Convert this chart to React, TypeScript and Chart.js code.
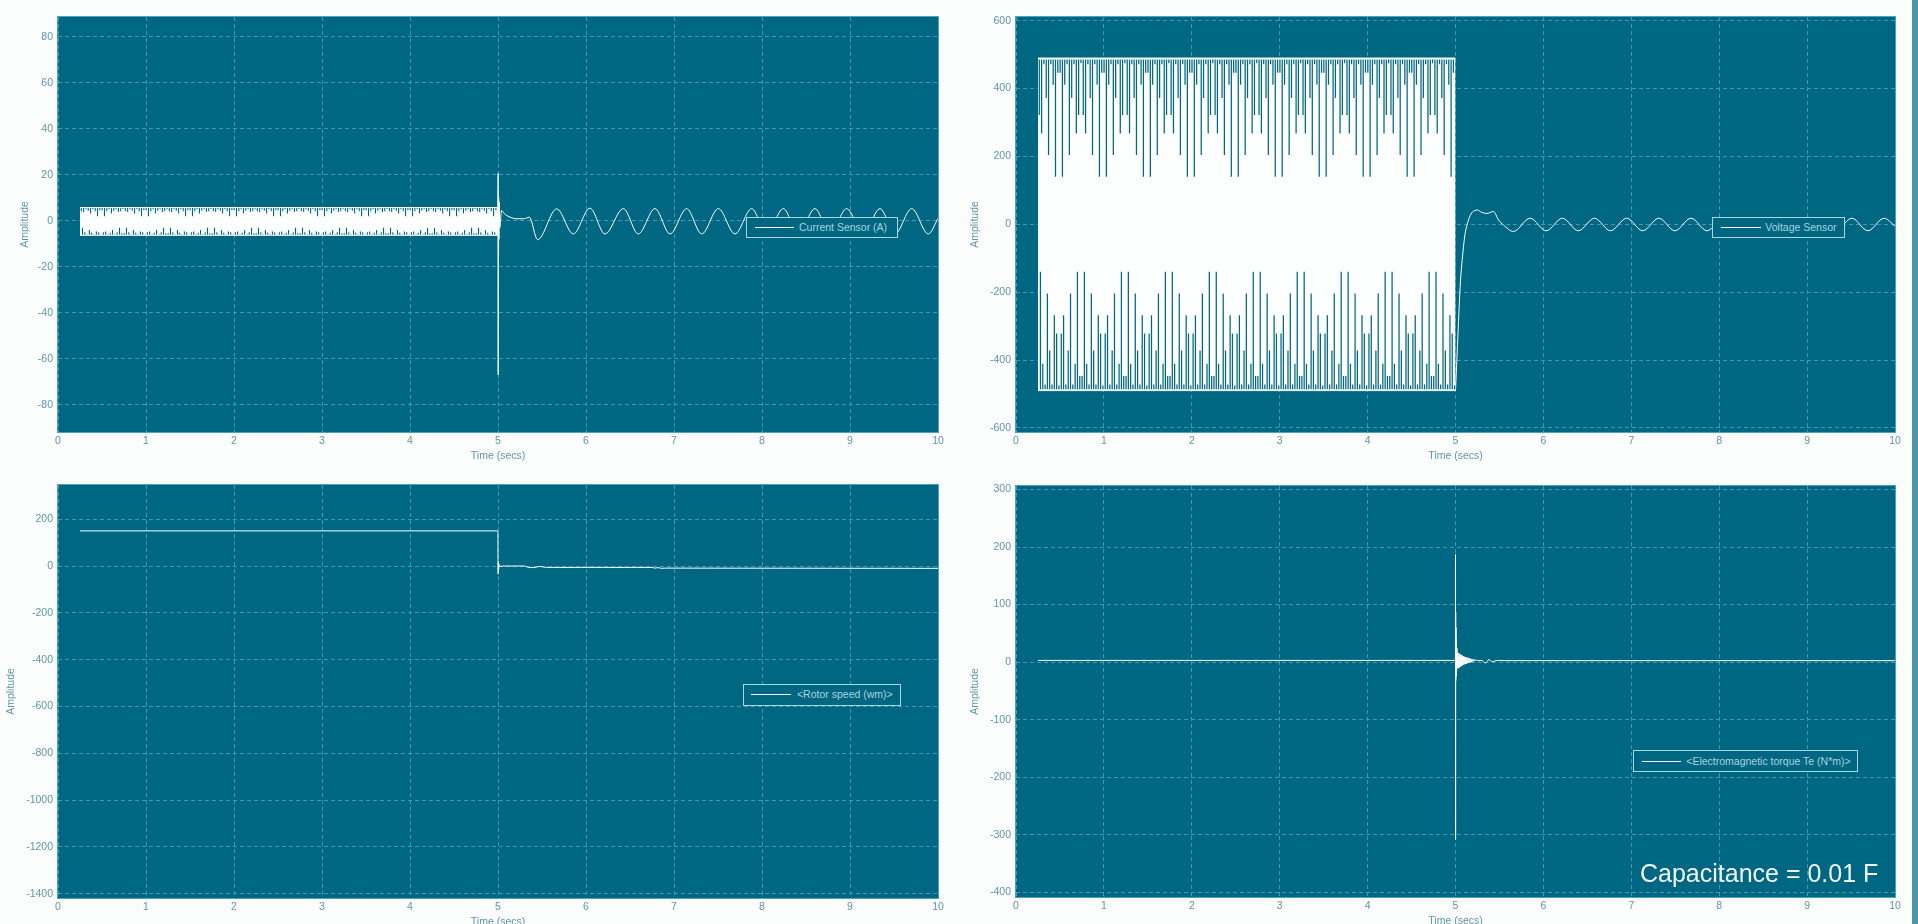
import React, { useEffect, useRef } from "react";
import { Chart, registerables } from "chart.js";

Chart.register(...registerables);

// ---------- colours / fonts ----------
const PAGE_BG = "#fbfcfc";
const PLOT_BG = "#006782";
const GRID = "#3c9ab2";
const FRAME = "#4ea3b8";
const AXIS_TEXT = "#5f96a7";
const TRACE = "#fdfefe";
const LEGEND_EDGE = "#a9d6e1";
const LEGEND_TEXT = "#aad3de";
const FONT = "'Liberation Sans', Arial, sans-serif";

// ---------- ticks ----------
const timeTicks = [0, 1, 2, 3, 4, 5, 6, 7, 8, 9, 10];
const currentTicks = [-80, -60, -40, -20, 0, 20, 40, 60, 80];
const voltageTicks = [-600, -400, -200, 0, 200, 400, 600];
const speedTicks = [-1400, -1200, -1000, -800, -600, -400, -200, 0, 200];
const torqueTicks = [-400, -300, -200, -100, 0, 100, 200, 300];

const currentRange = [-91.9, 88.7];
const voltageRange = [-612, 611];
const speedRange = [-1418, 346];
const torqueRange = [-408, 306];

// ---------- PWM block (inverter running, 0.25 s to 5 s) ----------
const blockTimes = [0.25, 5.0];
const currentBandTop = [5.8, 5.8];
const currentBandBottom = [-6.3, -6.3];
const voltageBandTop = [490, 490];
const voltageBandBottom = [-490, -490];

// PWM gaps, sampled every 0.02632 s
const gapTopStart = 0.265;
const gapBottomStart = 0.278;
const gapStep = 0.02632;

const voltTopGapEnds = [
  322, 268, 472, 372, 204, 472, 411,
  140, 447, 447, 140, 411, 472, 204, 372, 472, 268, 322, 475, 322, 268, 472, 372, 204, 472, 411,
  140, 447, 447, 140, 411, 472, 204, 372, 472, 268, 322, 475, 322, 268, 472, 372, 204, 472, 411,
  140, 447, 447, 140, 411, 472, 204, 372, 472, 268, 322, 475, 322, 268, 472, 372, 204, 472, 411,
  140, 447, 447, 140, 411, 472, 204, 372, 472, 268, 322, 475, 322, 268, 472, 372, 204, 472, 411,
  140, 447, 447, 140, 411, 472, 204, 372, 472, 268, 322, 475, 322, 268, 472, 372, 204, 472, 411,
  140, 447, 447, 140, 411, 472, 204, 372, 472, 268, 322, 475, 322, 268, 472, 372, 204, 472, 411,
  140, 447, 447, 140, 411, 472, 204, 372, 472, 268, 322, 475, 322, 268, 472, 372, 204, 472, 411,
  140, 447, 447, 140, 411, 472, 204, 372, 472, 268, 322, 475, 322, 268, 472, 372, 204, 472, 411,
  140, 447, 447, 140, 411, 472, 204, 372, 472, 268, 322, 475, 322, 268, 472, 372, 204, 472, 411,
  140, 447,
];
const voltBottomGapEnds = [
  -140, -411, -472, -204, -372, -472, -268, -322, -475, -322, -268, -472, -372, -204, -472, -411,
  -140, -447, -447, -140, -411, -472, -204, -372, -472, -268, -322, -475, -322, -268, -472, -372, -204, -472, -411,
  -140, -447, -447, -140, -411, -472, -204, -372, -472, -268, -322, -475, -322, -268, -472, -372, -204, -472, -411,
  -140, -447, -447, -140, -411, -472, -204, -372, -472, -268, -322, -475, -322, -268, -472, -372, -204, -472, -411,
  -140, -447, -447, -140, -411, -472, -204, -372, -472, -268, -322, -475, -322, -268, -472, -372, -204, -472, -411,
  -140, -447, -447, -140, -411, -472, -204, -372, -472, -268, -322, -475, -322, -268, -472, -372, -204, -472, -411,
  -140, -447, -447, -140, -411, -472, -204, -372, -472, -268, -322, -475, -322, -268, -472, -372, -204, -472, -411,
  -140, -447, -447, -140, -411, -472, -204, -372, -472, -268, -322, -475, -322, -268, -472, -372, -204, -472, -411,
  -140, -447, -447, -140, -411, -472, -204, -372, -472, -268, -322, -475, -322, -268, -472, -372, -204, -472, -411,
  -140, -447, -447, -140, -411, -472, -204, -372, -472, -268, -322, -475,
];

const currTopNotchEnds = [
  4.2, 3.8, 5.0, 4.4, 3.2, 5.0, 4.2,
  2.0, 4.6, 4.6, 2.0, 4.2, 5.0, 3.2, 4.4, 5.0, 3.8, 4.2, 5.1, 4.2, 3.8, 5.0, 4.4, 3.2, 5.0, 4.2,
  2.0, 4.6, 4.6, 2.0, 4.2, 5.0, 3.2, 4.4, 5.0, 3.8, 4.2, 5.1, 4.2, 3.8, 5.0, 4.4, 3.2, 5.0, 4.2,
  2.0, 4.6, 4.6, 2.0, 4.2, 5.0, 3.2, 4.4, 5.0, 3.8, 4.2, 5.1, 4.2, 3.8, 5.0, 4.4, 3.2, 5.0, 4.2,
  2.0, 4.6, 4.6, 2.0, 4.2, 5.0, 3.2, 4.4, 5.0, 3.8, 4.2, 5.1, 4.2, 3.8, 5.0, 4.4, 3.2, 5.0, 4.2,
  2.0, 4.6, 4.6, 2.0, 4.2, 5.0, 3.2, 4.4, 5.0, 3.8, 4.2, 5.1, 4.2, 3.8, 5.0, 4.4, 3.2, 5.0, 4.2,
  2.0, 4.6, 4.6, 2.0, 4.2, 5.0, 3.2, 4.4, 5.0, 3.8, 4.2, 5.1, 4.2, 3.8, 5.0, 4.4, 3.2, 5.0, 4.2,
  2.0, 4.6, 4.6, 2.0, 4.2, 5.0, 3.2, 4.4, 5.0, 3.8, 4.2, 5.1, 4.2, 3.8, 5.0, 4.4, 3.2, 5.0, 4.2,
  2.0, 4.6, 4.6, 2.0, 4.2, 5.0, 3.2, 4.4, 5.0, 3.8, 4.2, 5.1, 4.2, 3.8, 5.0, 4.4, 3.2, 5.0, 4.2,
  2.0, 4.6, 4.6, 2.0, 4.2, 5.0, 3.2, 4.4, 5.0, 3.8, 4.2, 5.1, 4.2, 3.8, 5.0, 4.4, 3.2, 5.0, 4.2,
  2.0, 4.6,
];
const currBottomNotchEnds = [
  -3.0, -5.0, -5.8, -4.0, -5.2, -5.8, -4.6, -5.0, -5.9, -5.0, -4.6, -5.8, -5.2, -4.0, -5.8, -5.0,
  -3.0, -5.4, -5.4, -3.0, -5.0, -5.8, -4.0, -5.2, -5.8, -4.6, -5.0, -5.9, -5.0, -4.6, -5.8, -5.2, -4.0, -5.8, -5.0,
  -3.0, -5.4, -5.4, -3.0, -5.0, -5.8, -4.0, -5.2, -5.8, -4.6, -5.0, -5.9, -5.0, -4.6, -5.8, -5.2, -4.0, -5.8, -5.0,
  -3.0, -5.4, -5.4, -3.0, -5.0, -5.8, -4.0, -5.2, -5.8, -4.6, -5.0, -5.9, -5.0, -4.6, -5.8, -5.2, -4.0, -5.8, -5.0,
  -3.0, -5.4, -5.4, -3.0, -5.0, -5.8, -4.0, -5.2, -5.8, -4.6, -5.0, -5.9, -5.0, -4.6, -5.8, -5.2, -4.0, -5.8, -5.0,
  -3.0, -5.4, -5.4, -3.0, -5.0, -5.8, -4.0, -5.2, -5.8, -4.6, -5.0, -5.9, -5.0, -4.6, -5.8, -5.2, -4.0, -5.8, -5.0,
  -3.0, -5.4, -5.4, -3.0, -5.0, -5.8, -4.0, -5.2, -5.8, -4.6, -5.0, -5.9, -5.0, -4.6, -5.8, -5.2, -4.0, -5.8, -5.0,
  -3.0, -5.4, -5.4, -3.0, -5.0, -5.8, -4.0, -5.2, -5.8, -4.6, -5.0, -5.9, -5.0, -4.6, -5.8, -5.2, -4.0, -5.8, -5.0,
  -3.0, -5.4, -5.4, -3.0, -5.0, -5.8, -4.0, -5.2, -5.8, -4.6, -5.0, -5.9, -5.0, -4.6, -5.8, -5.2, -4.0, -5.8, -5.0,
  -3.0, -5.4, -5.4, -3.0, -5.0, -5.8, -4.0, -5.2, -5.8, -4.6, -5.0, -5.9,
];

// ---------- signals after the capacitor switch (t >= 5 s) ----------
const currentTimes = [
  5.0, 5.001, 5.002, 5.004, 5.006, 5.008, 5.011, 5.015, 5.02, 5.04, 5.07, 5.1, 5.15, 5.21, 5.3, 5.355, 5.45,
  5.667, 5.856, 6.045, 6.216, 6.424, 6.594, 6.784, 6.955, 7.144, 7.315, 7.504, 7.693, 7.883, 8.053, 8.242,
  8.413, 8.602, 8.773, 8.962, 9.151, 9.341, 9.511, 9.701, 9.89, 10.0,
];
const currentValues = [
  0, 20.7, -67, 13, -15, 10, -8, 8, -3, 4.5, 3.2, 2.3, 1.4, 0.9, 0.9, 1.6, -8.2,
  5.2, -5.7, 5.5, -5.7, 5.3, -5.7, 5.3, -5.7, 5.3, -5.7, 5.3, -5.7, 5.3, -5.7, 5.3,
  -5.7, 5.3, -5.7, 5.3, -5.7, 5.3, -5.7, 5.3, -5.7, 1.0,
];

const voltageTimes = [
  5.0, 5.007, 5.022, 5.053, 5.091, 5.11, 5.148, 5.186, 5.25, 5.3, 5.357, 5.432, 5.489, 5.545, 5.659,
  5.849, 6.032, 6.215, 6.398, 6.581, 6.764, 6.947, 7.13, 7.313, 7.496, 7.679, 7.862, 8.045, 8.228,
  8.411, 8.594, 8.777, 8.96, 9.143, 9.326, 9.509, 9.692, 9.875, 10.0,
];
const voltageValues = [
  -490, -450, -361, -184, -66, -27, 13, 34, 42, 35, 32, 38, 13, -2, -21,
  18, -19, 18, -19, 18, -19, 18, -19, 18, -19, 18, -19, 18, -19,
  18, -19, 18, -19, 18, -19, 18, -19, 18, -5,
];

const speedTimes = [
  0.25, 4.999, 5.0, 5.002, 5.004, 5.006, 5.01, 5.02, 5.05, 5.3, 5.33, 5.37, 5.42, 5.47, 5.5, 5.55, 5.6,
  6.75, 6.78, 6.82, 6.86, 6.9, 10.0,
];
const speedValues = [
  150, 150, 0, -35, 18, -20, 8, -3, 0, 0, -4, -7, -6, -2, -3, -6, -6,
  -6, -9, -7, -10, -9, -10,
];

const torqueTimes = [
  0.25, 4.999, 5.0, 5.001, 5.002, 5.003, 5.005, 5.007, 5.009, 5.012, 5.015,
  5.02, 5.025, 5.03, 5.035, 5.04, 5.045, 5.05, 5.055, 5.06, 5.065, 5.07, 5.075, 5.08, 5.085, 5.09, 5.095,
  5.1, 5.105, 5.11, 5.115, 5.12, 5.125, 5.13, 5.135, 5.14, 5.145, 5.15, 5.155, 5.16, 5.165, 5.17, 5.175,
  5.18, 5.185, 5.19, 5.195, 5.2, 5.21, 5.22, 5.23, 5.24, 5.25,
  5.3, 5.34, 5.38, 5.42, 5.46, 5.5, 5.56, 10.0,
];
const torqueValues = [
  3, 3, 187, -308, 87, -32, 60, -25, 40, -18, 25,
  17, -11, 16, -10, 15, -9, 14, -8, 13, -7, 12, -6, 11, -5, 10, -4,
  9.5, -3.5, 9, -3, 8.5, -2.5, 8, -2, 7.5, -1.5, 7, -1, 6.5, -0.5, 6, 0,
  5.5, 0.5, 5, 1, 5, 1.5, 4.5, 2, 4, 2.5,
  3, -1.5, 4.3, 1, 2.6, 3, 2.6, 2.6,
];

// ---------- helpers ----------
const pts = (xs: number[], ys: number[]) => xs.map((x, i) => ({ x, y: ys[i] }));

const gapPoints = (start: number, step: number, ends: number[], edge: number) => {
  const out: any[] = [];
  ends.forEach((v, i) => {
    const t = start + step * i;
    out.push({ x: t, y: edge }, { x: t, y: v }, { x: t, y: null });
  });
  return out;
};

const traceDs = (data: any[], order = 2) => ({
  data,
  borderColor: TRACE,
  borderWidth: 1,
  pointRadius: 0,
  fill: false,
  cubicInterpolationMode: "monotone",
  order,
});

const bandDs = (top: number[], bottom: number[]) => [
  { data: pts(blockTimes, top), borderColor: TRACE, backgroundColor: TRACE, borderWidth: 1, pointRadius: 0, fill: "+1", order: 6 },
  { data: pts(blockTimes, bottom), borderColor: TRACE, borderWidth: 1, pointRadius: 0, fill: false, order: 5 },
];

const gapDs = (data: any[], width = 1.25) => ({
  data,
  borderColor: PLOT_BG,
  borderWidth: width,
  pointRadius: 0,
  fill: false,
  spanGaps: false,
  tension: 0,
  order: 1,
});

const scopePlugin = {
  id: "scopeFrame",
  beforeDraw(chart: any) {
    const { ctx, chartArea: a } = chart;
    ctx.save();
    ctx.fillStyle = PLOT_BG;
    ctx.fillRect(a.left, a.top, a.right - a.left, a.bottom - a.top);
    ctx.restore();
  },
  afterDatasetsDraw(chart: any) {
    const { ctx, chartArea: a } = chart;
    ctx.save();
    ctx.strokeStyle = FRAME;
    ctx.lineWidth = 1;
    ctx.strokeRect(a.left - 0.5, a.top - 0.5, a.right - a.left + 1, a.bottom - a.top + 1);
    ctx.restore();
  },
};

const panels = [
  {
    key: "current", left: 0, top: 0, w: 960, h: 470,
    yWidth: 58, padTop: 17, padRight: 22, padBottom: 7.7, xH: 30.3, yTitlePad: 18.4,
    ticks: currentTicks, range: currentRange,
    datasets: [
      ...bandDs(currentBandTop, currentBandBottom),
      gapDs(gapPoints(gapTopStart, gapStep, currTopNotchEnds, 5.6), 1.1),
      gapDs(gapPoints(gapBottomStart, gapStep, currBottomNotchEnds, -6.1), 1.1),
      traceDs(pts(currentTimes, currentValues)),
    ],
  },
  {
    key: "voltage", left: 960, top: 0, w: 958, h: 470,
    yWidth: 56, padTop: 17, padRight: 23, padBottom: 7.7, xH: 30.3, yTitlePad: 8.4,
    ticks: voltageTicks, range: voltageRange,
    datasets: [
      ...bandDs(voltageBandTop, voltageBandBottom),
      gapDs(gapPoints(gapTopStart, gapStep, voltTopGapEnds, 486)),
      gapDs(gapPoints(gapBottomStart, gapStep, voltBottomGapEnds, -486)),
      traceDs(pts(voltageTimes, voltageValues)),
    ],
  },
  {
    key: "speed", left: 0, top: 470, w: 960, h: 470,
    yWidth: 58, padTop: 15, padRight: 22, padBottom: 11.7, xH: 30.3, yTitlePad: 4.4,
    ticks: speedTicks, range: speedRange,
    datasets: [traceDs(pts(speedTimes, speedValues))],
  },
  {
    key: "torque", left: 960, top: 470, w: 958, h: 470,
    yWidth: 56, padTop: 16, padRight: 23, padBottom: 12.7, xH: 30.3, yTitlePad: 8.4,
    ticks: torqueTicks, range: torqueRange,
    datasets: [traceDs(pts(torqueTimes, torqueValues))],
  },
];

const legends = [
  { text: "Current Sensor (A)", left: 746, top: 216.7, w: 152, h: 21.6, lineL: 8, lineW: 39, textL: 52 },
  { text: "Voltage Sensor", left: 1712.3, top: 216.7, w: 133, h: 21.6, lineL: 8, lineW: 40, textL: 52 },
  { text: "<Rotor speed (wm)>", left: 743.3, top: 684.3, w: 157.4, h: 21.4, lineL: 7, lineW: 40, textL: 52.7 },
  { text: "<Electromagnetic torque Te (N*m)>", left: 1632.7, top: 750, w: 225.7, h: 22.3, lineL: 8.3, lineW: 39, textL: 52.6 },
];

function buildConfig(p: any) {
  const font = { family: FONT, size: 10.5 };
  return {
    type: "line",
    data: { datasets: p.datasets },
    options: {
      animation: false,
      responsive: false,
      devicePixelRatio: 1,
      events: [],
      layout: { padding: { left: 0, top: p.padTop, right: p.padRight, bottom: p.padBottom } },
      plugins: { legend: { display: false }, tooltip: { enabled: false } },
      elements: { point: { radius: 0 } },
      scales: {
        x: {
          type: "linear",
          min: 0,
          max: 10,
          afterBuildTicks: (s: any) => { s.ticks = timeTicks.map((v) => ({ value: v })); },
          afterFit: (s: any) => { s.height = p.xH; },
          grid: { color: GRID, lineWidth: 1, drawTicks: false },
          border: { display: false, dash: [4, 3] },
          ticks: { color: AXIS_TEXT, font, padding: 3, maxRotation: 0, autoSkip: false, callback: (v: any) => String(v) },
          title: { display: true, text: "Time (secs)", color: AXIS_TEXT, font, padding: { top: 0, bottom: 0 } },
        },
        y: {
          type: "linear",
          min: p.range[0],
          max: p.range[1],
          afterBuildTicks: (s: any) => { s.ticks = p.ticks.map((v: number) => ({ value: v })); },
          afterFit: (s: any) => { s.width = p.yWidth; },
          grid: { color: GRID, lineWidth: 1, drawTicks: false },
          border: { display: false, dash: [4, 3] },
          ticks: { color: AXIS_TEXT, font, padding: 5, autoSkip: false, callback: (v: any) => String(v) },
          title: { display: true, text: "Amplitude", color: AXIS_TEXT, font, padding: { top: p.yTitlePad, bottom: 0 } },
        },
      },
    },
    plugins: [scopePlugin],
  };
}

function Panel({ p }: { p: any }) {
  const ref = useRef<HTMLCanvasElement>(null);
  useEffect(() => {
    const chart = new Chart(ref.current as HTMLCanvasElement, buildConfig(p) as any);
    return () => chart.destroy();
  }, []);
  return (
    <canvas
      ref={ref}
      width={p.w}
      height={p.h}
      style={{ position: "absolute", left: p.left, top: p.top, width: p.w, height: p.h }}
    />
  );
}

export default function App() {
  return (
    <div style={{ position: "fixed", left: 0, top: 0, width: 1918, height: 924, background: PAGE_BG, overflow: "hidden" }}>
      {panels.map((p) => (
        <Panel key={p.key} p={p} />
      ))}
      {legends.map((l) => (
        <div
          key={l.text}
          style={{
            position: "absolute", left: l.left, top: l.top, width: l.w, height: l.h,
            boxSizing: "border-box", border: `1px solid ${LEGEND_EDGE}`, background: PLOT_BG,
          }}
        >
          <div style={{ position: "absolute", left: l.lineL, top: l.h / 2 - 1.5, width: l.lineW, height: 1, background: TRACE }} />
          <div
            style={{
              position: "absolute", left: l.textL, top: 0, height: l.h - 2, lineHeight: `${l.h - 2}px`,
              fontFamily: FONT, fontSize: 10.5, color: LEGEND_TEXT, whiteSpace: "nowrap",
            }}
          >
            {l.text}
          </div>
        </div>
      ))}
      <div
        style={{
          position: "absolute", left: 1640, top: 858, fontFamily: FONT, fontSize: 25,
          lineHeight: "30px", color: "#f1f6f7", whiteSpace: "nowrap",
        }}
      >
        Capacitance = 0.01 F
      </div>
      <div style={{ position: "absolute", left: 1912, top: 0, width: 6, height: 924, background: "#4f93a6" }} />
    </div>
  );
}
